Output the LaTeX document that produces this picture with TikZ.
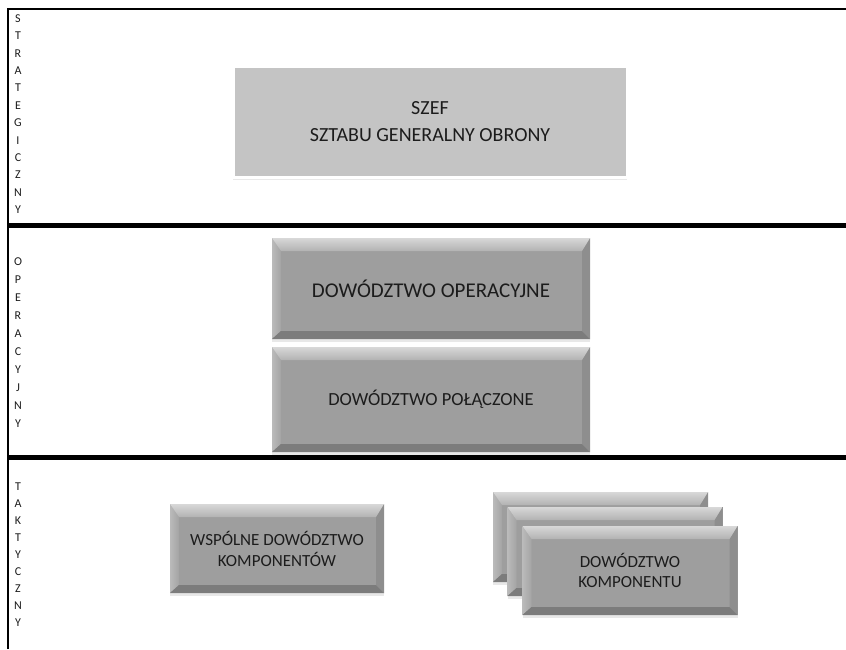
\documentclass[tikz,border=0pt]{standalone}
\usepackage{fontspec}
\setmainfont{Carlito}
\usetikzlibrary{shadows}

\definecolor{bevmid}{HTML}{9E9E9E}
\definecolor{bevtopA}{HTML}{D8D8D8}
\definecolor{bevtopB}{HTML}{B2B2B2}
\definecolor{bevleftA}{HTML}{BABABA}
\definecolor{bevleftB}{HTML}{A4A4A4}
\definecolor{bevright}{HTML}{8E8E8E}
\definecolor{bevbot}{HTML}{7C7C7C}
\definecolor{flatgray}{HTML}{C4C4C4}
\definecolor{textdark}{HTML}{1C1C1C}

\tikzset{
  % bevelled grey block: four trapezoid edges around a flat centre
  bevel/.style={
    fill=bevmid, inner sep=0pt, align=center, text=textdark,
    minimum width=#1,
    drop shadow={shadow xshift=0pt, shadow yshift=-2.5pt, opacity=0.18},
    path picture={
      \coordinate (bNW) at (path picture bounding box.north west);
      \coordinate (bNE) at (path picture bounding box.north east);
      \coordinate (bSW) at (path picture bounding box.south west);
      \coordinate (bSE) at (path picture bounding box.south east);
      \coordinate (iNW) at ([xshift=9pt,yshift=-13pt]bNW);
      \coordinate (iNE) at ([xshift=-8pt,yshift=-13pt]bNE);
      \coordinate (iSW) at ([xshift=9pt,yshift=8pt]bSW);
      \coordinate (iSE) at ([xshift=-8pt,yshift=8pt]bSE);
      \shade[left color=bevleftA, right color=bevleftB] (bNW) -- (iNW) -- (iSW) -- (bSW) -- cycle;
      \fill[bevright] (bNE) -- (iNE) -- (iSE) -- (bSE) -- cycle;
      \fill[bevbot] (bSW) -- (iSW) -- (iSE) -- (bSE) -- cycle;
      \shade[top color=bevtopA, bottom color=bevtopB] (bNW) -- (bNE) -- (iNE) -- (iNW) -- cycle;
    }},
  flatbox/.style={
    fill=flatgray, draw=white, line width=3pt, inner sep=0pt, align=center,
    text=textdark,
    drop shadow={shadow xshift=0pt, shadow yshift=-2.5pt, opacity=0.18}},
  sidelabel/.style={align=center, text=textdark, inner sep=0pt},
  rule/.style={line width=5pt, black},
  frame/.style={line width=2.2pt, black}
}

\begin{document}
\begin{tikzpicture}[x=1pt, y=-1pt]
  \useasboundingbox (0,0) rectangle (846,649);

  % outer frame and level separators
  \coordinate (fBL) at (8,649);
  \coordinate (fTL) at (8,9);
  \coordinate (fTR) at (846,9);
  \coordinate (s1L) at (8,225);
  \coordinate (s1R) at (846,225);
  \coordinate (s2L) at (8,457);
  \coordinate (s2R) at (846,457);
  \draw[frame] (fBL) -- (fTL) -- (fTR);
  \draw[rule] (s1L) -- (s1R);
  \draw[rule] (s2L) -- (s2R);

  % level names, one letter per line
  \node[sidelabel, font=\fontsize{12}{17.4}\selectfont] (lvlS) at (18,114)
    {S\\T\\R\\A\\T\\E\\G\\I\\C\\Z\\N\\Y};
  \node[sidelabel, font=\fontsize{12}{18}\selectfont] (lvlO) at (18,343)
    {O\\P\\E\\R\\A\\C\\Y\\J\\N\\Y};
  \node[sidelabel, font=\fontsize{12}{17}\selectfont] (lvlT) at (18,555)
    {T\\A\\K\\T\\Y\\C\\Z\\N\\Y};

  % strategic level
  \node[flatbox, minimum width=394pt, minimum height=111pt,
        font=\fontsize{20}{27}\selectfont] (szef) at (430,121.5)
    {SZEF\\SZTABU GENERALNY OBRONY};

  % operational level
  \node[bevel=318pt, minimum height=101pt,
        font=\fontsize{21}{25}\selectfont] (dop) at (431,288.5)
    {DOWÓDZTWO OPERACYJNE};
  \node[bevel=318pt, minimum height=105pt,
        font=\fontsize{18.5}{22}\selectfont] (dpol) at (431,399.5)
    {DOWÓDZTWO POŁĄCZONE};

  % tactical level
  \node[bevel=214pt, minimum height=89pt,
        font=\fontsize{17}{21}\selectfont] (wdk) at (277,548.5)
    {WSPÓLNE DOWÓDZTWO\\KOMPONENTÓW};
  \node[bevel=215pt, minimum height=90pt] (dk3) at (600.5,537) {};
  \node[bevel=215pt, minimum height=89pt] (dk2) at (615,551.5) {};
  \node[bevel=215pt, minimum height=89pt,
        font=\fontsize{17}{20}\selectfont] (dk1) at (630,570.5)
    {DOWÓDZTWO\\KOMPONENTU};
\end{tikzpicture}
\end{document}
